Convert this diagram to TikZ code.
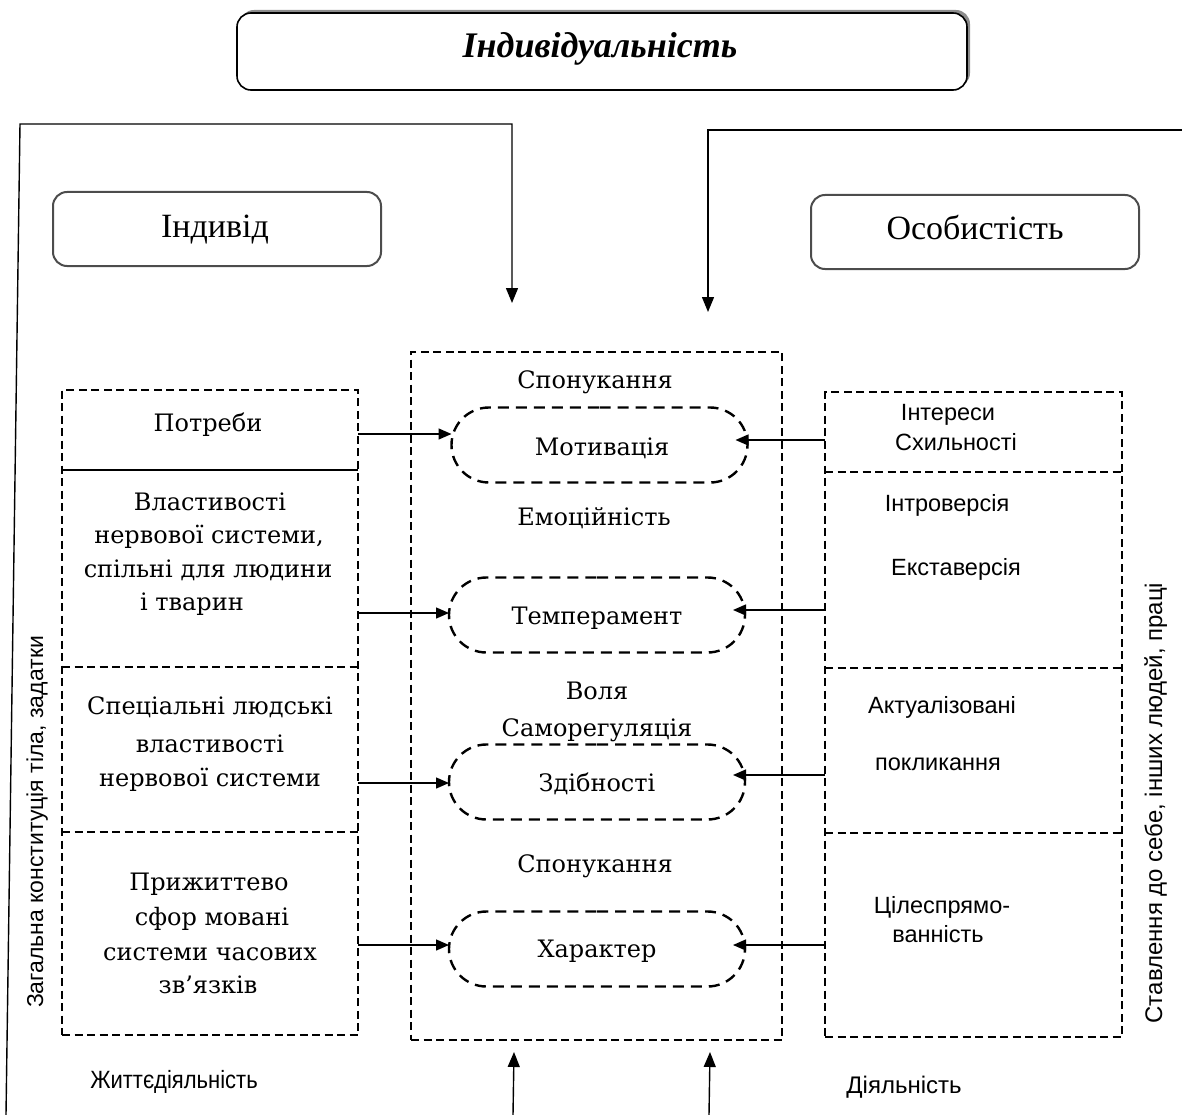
\documentclass[tikz,border=0pt]{standalone}
\usepackage{fontspec}
\setmainfont{DejaVu Serif}
\newfontfamily\headfont{Liberation Serif}
\newfontfamily\labelfont{Liberation Sans}
\usetikzlibrary{shapes.misc,arrows.meta,calc}

\begin{document}
\begin{tikzpicture}[x=1pt,y=-1pt,
  every node/.style={inner sep=0pt,outer sep=0pt},
  wire/.style={line width=1.4pt},
  tipin/.style={wire,-{Triangle[length=13pt,width=11pt]}},
  tipbig/.style={wire,-{Triangle[length=15pt,width=12pt]}},
  zone/.style={draw,line width=1.3pt,dash pattern=on 8pt off 4.5pt},
  capsule/.style={rounded rectangle,draw,line width=2.4pt,dash pattern=on 11pt off 7pt,
                  minimum width=296pt,minimum height=75pt},
  tag/.style={draw=black!70,line width=2pt,rounded corners=14pt,
              minimum width=328pt,minimum height=74pt},
  srf/.style={font=\fontsize{24}{28}\selectfont,anchor=base},
  snf/.style={font=\labelfont\fontsize{23.5}{28}\selectfont,anchor=base},
  bigf/.style={font=\headfont\fontsize{34}{38}\selectfont,anchor=base},
]
\useasboundingbox (0,0) rectangle (1182,1115);

% ---- title with shadow ----
\fill[black!45,rounded corners=14pt] (240,10) rectangle (970,87);
\node[draw,fill=white,line width=1.6pt,rounded corners=14pt,
      minimum width=730pt,minimum height=77pt] (title) at (602,51.5) {};
\node[font=\headfont\bfseries\itshape\fontsize{36}{40}\selectfont,anchor=base]
  (titletxt) at (600,58) {Індивідуальність};

% ---- side headers ----
\node[tag] (indbox) at (217,229) {};
\node[bigf] (indtxt) at (215,238) {Індивід};
\node[tag] (osbox) at (975,232) {};
\node[bigf] (ostxt) at (975,240) {Особистість};

% ---- feed lines from above ----
\coordinate (lfoot) at (6,1115);
\coordinate (lbend) at (20,124);
\coordinate (ltop) at (512,124);
\coordinate (lhit) at (512,303);
\draw[tipbig] (lfoot) -- (lbend) -- (ltop) -- (lhit);
\coordinate (rstart) at (1182,130);
\coordinate (rtop) at (708,130);
\coordinate (rhit) at (708,312);
\draw[tipbig] (rstart) -- (rtop) -- (rhit);

% ---- feed lines from below ----
\coordinate (b1) at (513,1115);
\coordinate (b1hit) at (514,1052);
\coordinate (b2) at (709,1115);
\coordinate (b2hit) at (710,1052);
\draw[tipbig] (b1) -- (b1hit);
\draw[tipbig] (b2) -- (b2hit);

% ---- three columns ----
\node[zone,minimum width=296pt,minimum height=645pt] (lbox) at (210,712.5) {};
\node[zone,minimum width=371pt,minimum height=688pt] (cbox) at (596.5,696) {};
\node[zone,minimum width=297pt,minimum height=645pt] (rbox) at (973.5,714.5) {};

\draw[wire] (62,470) -- (358,470);
\draw[zone] (62,667) -- (358,667);
\draw[zone] (62,832) -- (358,832);
\draw[zone] (825,472) -- (1122,472);
\draw[zone] (825,668) -- (1122,668);
\draw[zone] (825,833) -- (1122,833);

% ---- central capsules ----
\node[capsule] (mot) at (599.5,445) {};
\node[capsule] (temp) at (597,615) {};
\node[capsule] (zdib) at (597,782) {};
\node[capsule] (khar) at (597,949) {};

% ---- central texts ----
\node[srf] (c1) at (595,388) {Спонукання};
\node[srf] (c2) at (602,455) {Мотивація};
\node[srf] (c3) at (594,525) {Емоційність};
\node[srf] (c4) at (597,624) {Темперамент};
\node[srf] (c5) at (597,699) {Воля};
\node[srf] (c6) at (597,736) {Саморегуляція};
\node[srf] (c7) at (597,791) {Здібності};
\node[srf] (c8) at (595,872) {Спонукання};
\node[srf] (c9) at (597,957) {Характер};

% ---- left column texts ----
\node[srf] (l1) at (208,431) {Потреби};
\node[srf] (l2a) at (210,510) {Властивості};
\node[srf] (l2b) at (209,543) {нервової системи,};
\node[srf] (l2c) at (208,577) {спільні для людини};
\node[srf] (l2d) at (192,610) {і тварин};
\node[srf] (l3a) at (210,714) {Спеціальні людські};
\node[srf] (l3b) at (210,752) {властивості};
\node[srf] (l3c) at (210,786) {нервової системи};
\node[srf] (l4a) at (209,890) {Прижиттево};
\node[srf] (l4b) at (212,925) {сфор мовані};
\node[srf] (l4c) at (210,960) {системи часових};
\node[srf] (l4d) at (208,993) {зв’язків};

% ---- right column texts ----
\node[snf] (r1a) at (948,420) {Інтереси};
\node[snf] (r1b) at (956,450) {Схильності};
\node[snf] (r2a) at (947,511) {Інтроверсія};
\node[snf] (r2b) at (956,575) {Екставерсія};
\node[snf] (r3a) at (942,713) {Актуалізовані};
\node[snf] (r3b) at (938,770) {покликання};
\node[snf] (r4a) at (942,913) {Цілеспрямо-};
\node[snf] (r4b) at (938,942) {ванність};

% ---- side captions ----
\node[font=\labelfont\fontsize{23}{26}\selectfont,rotate=90,anchor=base]
  (sideL) at (43,822) {Загальна конституція тіла, задатки};
\node[font=\labelfont\fontsize{24}{26}\selectfont,rotate=90,anchor=base]
  (sideR) at (1162,803) {Ставлення до себе, інших людей, праці};
\node[font=\labelfont\fontsize{25}{28}\selectfont,xscale=0.88,anchor=base]
  (life) at (174,1088) {Життєдіяльність};
\node[font=\labelfont\fontsize{24}{28}\selectfont,anchor=base]
  (act) at (904,1093) {Діяльність};

% ---- arrows into the capsules ----
\coordinate (pa) at (358,434);
\coordinate (pb) at (358,613);
\coordinate (pc) at (358,783);
\coordinate (pd) at (358,945);
\draw[tipin] (pa) -- (pa -| mot.west);
\draw[tipin] (pb) -- (pb -| temp.west);
\draw[tipin] (pc) -- (pc -| zdib.west);
\draw[tipin] (pd) -- (pd -| khar.west);
\coordinate (qa) at (825,440);
\coordinate (qb) at (825,610);
\coordinate (qc) at (825,775);
\coordinate (qd) at (825,945);
\draw[tipin] (qa) -- ($(qa -| mot.east)+(-12,0)$);
\draw[tipin] (qb) -- ($(qb -| temp.east)+(-12,0)$);
\draw[tipin] (qc) -- ($(qc -| zdib.east)+(-12,0)$);
\draw[tipin] (qd) -- ($(qd -| khar.east)+(-12,0)$);
\end{tikzpicture}
\end{document}
